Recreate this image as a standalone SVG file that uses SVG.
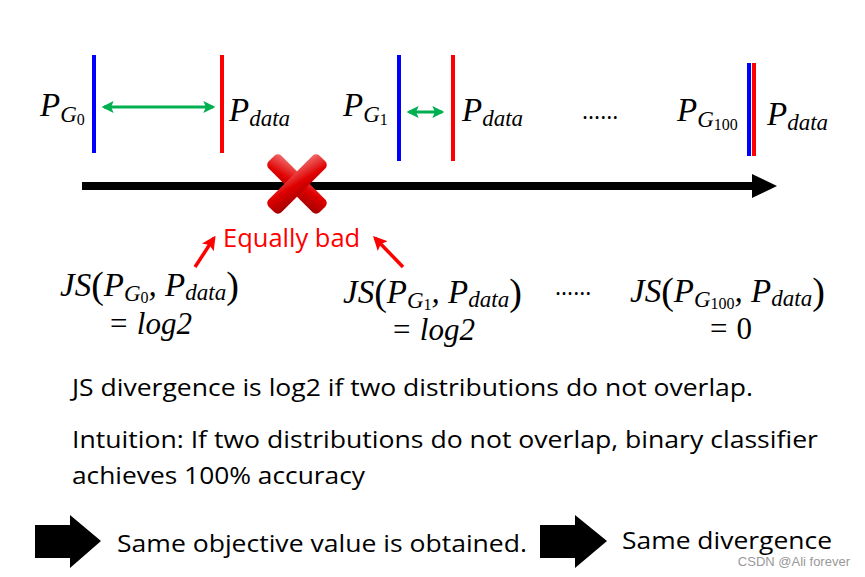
<svg xmlns="http://www.w3.org/2000/svg" width="865" height="577" viewBox="0 0 865 577">
<defs>
<style>
.m{font-family:"Liberation Serif","DejaVu Serif",serif;font-style:italic;font-size:33px;fill:#000}
.s{font-size:23px}
.ss{font-size:16px;font-style:normal}
.up{font-style:normal}
.eq{font-size:31px}
.t{font-family:"Open Sans","Liberation Sans",sans-serif;font-size:23px;fill:#000}
.blue{stroke:#0000ff;stroke-width:4}
.red{stroke:#ff0000;stroke-width:4}
.grn{stroke:#00b050;stroke-width:3;fill:none;marker-start:url(#ga);marker-end:url(#ga)}
.rarr{stroke:#ff0000;stroke-width:3.5;fill:none;marker-end:url(#ra)}
</style>
<marker id="ga" viewBox="0 0 10 10" refX="8" refY="5" markerWidth="4" markerHeight="4" orient="auto-start-reverse" markerUnits="strokeWidth">
<path d="M0,0 L10,5 L0,10 L2,5 Z" fill="#00b050"/>
</marker>
<marker id="ra" viewBox="0 0 10 10" refX="8" refY="5" markerWidth="4" markerHeight="4" orient="auto" markerUnits="strokeWidth">
<path d="M0,0 L10,5 L0,10 L2,5 Z" fill="#ff0000"/>
</marker>
<linearGradient id="xg" x1="0" y1="0" x2="1" y2="1">
<stop offset="0" stop-color="#f07070"/>
<stop offset="0.5" stop-color="#e00000"/>
<stop offset="1" stop-color="#a00000"/>
</linearGradient>
</defs>
<rect width="865" height="577" fill="#ffffff"/>

<g id="axis">
<path d="M82,186 L754,186" stroke="#000" stroke-width="8"/>
<path d="M752,174 L777,186 L752,198 Z" fill="#000"/>
</g>

<g id="case0">
<line class="blue" x1="94" y1="55" x2="94" y2="153"/>
<line class="red" x1="222" y1="55" x2="222" y2="153"/>
<text class="m" x="40" y="116">P<tspan class="s" dy="6">G</tspan><tspan class="ss" dy="3">0</tspan></text>
<text class="m" x="229" y="121">P<tspan class="s" dy="5">data</tspan></text>
</g>

<g id="case1">
<line class="blue" x1="399" y1="55" x2="399" y2="161"/>
<line class="red" x1="453" y1="55" x2="453" y2="161"/>
<text class="m" x="343" y="116">P<tspan class="s" dy="6">G</tspan><tspan class="ss" dy="3">1</tspan></text>
<text class="m" x="462" y="121">P<tspan class="s" dy="5">data</tspan></text>
</g>

<g id="dots1">
<text class="t" x="582" y="119">......</text>
</g>

<g id="case100">
<line class="blue" x1="749" y1="63" x2="749" y2="156"/>
<line class="red" x1="754" y1="63" x2="754" y2="156"/>
<text class="m" x="677" y="121">P<tspan class="s" dy="6">G</tspan><tspan class="ss" dy="3">100</tspan></text>
<text class="m" x="767" y="125">P<tspan class="s" dy="5">data</tspan></text>
</g>

<g id="cross">
<g transform="translate(297,184) rotate(45)" fill="url(#xg)">
<rect x="-36" y="-9" width="72" height="18" rx="5"/>
<rect x="-9" y="-36" width="18" height="72" rx="5"/>
</g>
</g>

<g id="equally-bad">
<text x="223" y="247" font-family="Open Sans,Liberation Sans,sans-serif" font-size="25.5" fill="#ff0000">Equally bad</text>
</g>

<g id="js0">
<text class="m" x="60" y="296">JS<tspan class="up" font-size="38" dy="2">(</tspan><tspan dy="-2">P</tspan><tspan class="s" dy="5">G</tspan><tspan class="ss" dy="2">0</tspan><tspan dy="-7">, P</tspan><tspan class="s" dy="4">data</tspan><tspan class="up" font-size="38" dy="-2">)</tspan></text>
<text class="m eq" x="150" y="334" text-anchor="middle">= log2</text>
</g>

<g id="js1">
<text class="m" x="343" y="303">JS<tspan class="up" font-size="38" dy="2">(</tspan><tspan dy="-2">P</tspan><tspan class="s" dy="5">G</tspan><tspan class="ss" dy="2">1</tspan><tspan dy="-7">, P</tspan><tspan class="s" dy="4">data</tspan><tspan class="up" font-size="38" dy="-2">)</tspan></text>
<text class="m eq" x="433" y="340" text-anchor="middle">= log2</text>
</g>

<g id="dots2">
<text class="t" x="555" y="295">......</text>
</g>

<g id="js100">
<text class="m" x="630" y="302">JS<tspan class="up" font-size="38" dy="2">(</tspan><tspan dy="-2">P</tspan><tspan class="s" dy="5">G</tspan><tspan class="ss" dy="2">100</tspan><tspan dy="-7">, P</tspan><tspan class="s" dy="4">data</tspan><tspan class="up" font-size="38" dy="-2">)</tspan></text>
<text class="m eq" x="730" y="339" text-anchor="middle">= <tspan class="up">0</tspan></text>
</g>

<g id="connectors">
<line class="grn" x1="104" y1="107" x2="213" y2="107"/>
<line class="grn" x1="409" y1="112" x2="442" y2="112"/>
<line class="rarr" x1="195" y1="267" x2="214" y2="238"/>
<line class="rarr" x1="403" y1="267" x2="375" y2="238"/>
</g>

<g id="notes">
<text class="t" x="72" y="396" textLength="681" lengthAdjust="spacingAndGlyphs">JS divergence is log2 if two distributions do not overlap.</text>
<text class="t" x="72" y="448" textLength="746" lengthAdjust="spacingAndGlyphs">Intuition: If two distributions do not overlap, binary classifier</text>
<text class="t" x="72" y="484" textLength="293" lengthAdjust="spacingAndGlyphs">achieves 100% accuracy</text>
</g>

<g id="bottom">
<path d="M35,525 L70,525 L70,515 L101,541 L70,568 L70,558 L35,558 Z" fill="#000"/>
<text class="t" x="117" y="552" font-size="25" textLength="410" lengthAdjust="spacingAndGlyphs">Same objective value is obtained.</text>
<path d="M540,525 L575,525 L575,515 L607,541 L575,568 L575,558 L540,558 Z" fill="#000"/>
<text class="t" x="622" y="549" font-size="25" textLength="210" lengthAdjust="spacingAndGlyphs">Same divergence</text>
<text x="850" y="566" text-anchor="end" font-family="Liberation Sans,sans-serif" font-size="13" fill="#999">CSDN @Ali forever</text>
</g>
</svg>
